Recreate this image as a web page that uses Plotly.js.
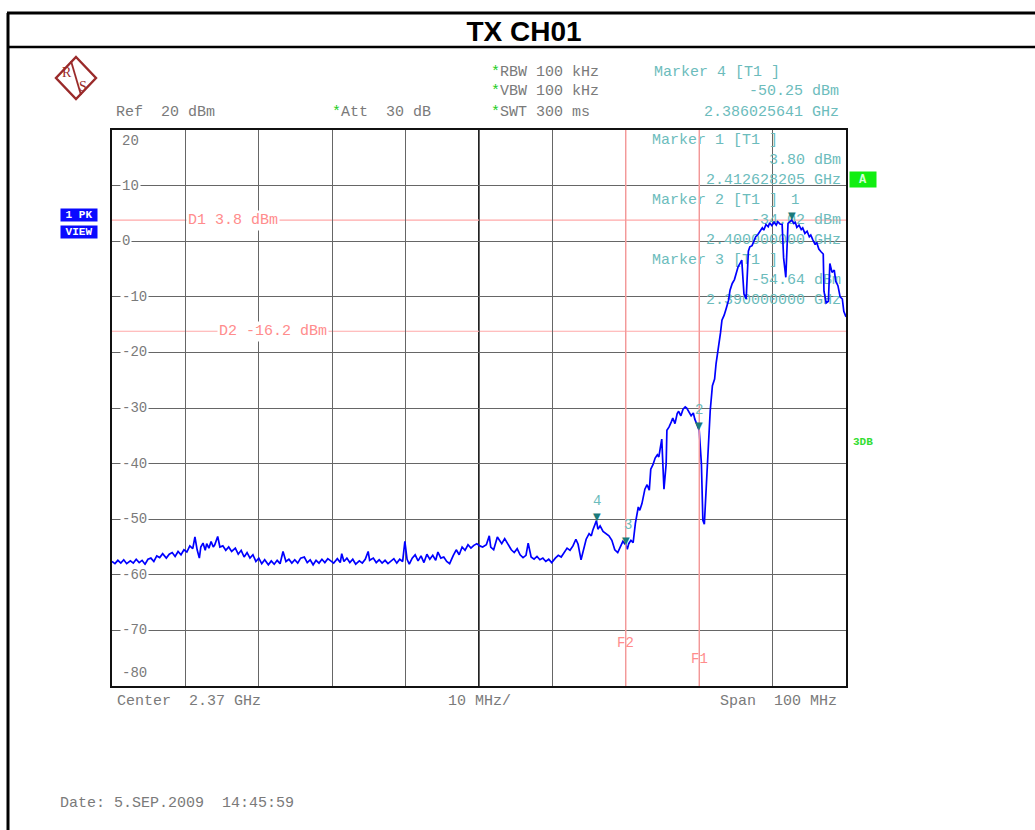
<!DOCTYPE html>
<html>
<head>
<meta charset="utf-8">
<script src="https://cdn.plot.ly/plotly-3.0.1.min.js"></script>
<style>html,body{margin:0;padding:0;background:#fff;}#chart{width:1035px;height:830px;}</style>
</head>
<body>
<div id="chart"></div>
<script>
// ---- Data ----
const freqMHz = [
2320.0,2320.4,2320.8,2321.2,2321.6,2322.0,2322.5,2322.9,2323.3,2323.7,2324.1,2324.5,2324.9,2325.3,2325.7,2326.1,2326.5,2326.9,2327.4,2327.8,
2328.2,2328.6,2329.0,2329.4,2329.8,2330.2,2330.6,2331.0,2331.3,2331.6,2331.9,2332.1,2332.4,2332.7,2332.9,2333.2,2333.5,2333.8,2334.0,2334.4,
2334.7,2335.1,2335.5,2335.9,2336.3,2336.8,2337.2,2337.6,2338.0,2338.4,2338.8,2339.2,2339.6,2340.0,2340.4,2340.8,2341.3,2341.7,2342.1,2342.5,
2342.9,2343.3,2343.7,2344.1,2344.5,2344.9,2345.3,2345.7,2346.2,2346.6,2347.0,2347.4,2347.8,2348.2,2348.6,2349.0,2349.4,2349.8,2350.2,2350.7,
2351.1,2351.3,2351.6,2352.0,2352.4,2352.8,2353.2,2353.7,2354.1,2354.5,2354.9,2355.1,2355.6,2356.0,2356.4,2356.8,2357.2,2357.6,2358.0,2358.4,
2358.8,2359.2,2359.6,2359.9,2360.2,2360.5,2360.9,2361.3,2361.7,2362.1,2362.5,2362.9,2363.3,2363.7,2364.1,2364.4,2364.8,2365.2,2365.6,2366.0,
2366.5,2366.9,2367.3,2367.7,2368.1,2368.5,2368.9,2369.3,2369.7,2370.1,2370.5,2371.0,2371.4,2371.6,2372.0,2372.5,2372.7,2373.1,2373.5,2374.0,
2374.4,2374.8,2375.2,2375.6,2376.0,2376.4,2376.7,2377.1,2377.5,2377.9,2378.3,2378.7,2379.1,2379.5,2379.9,2380.4,2380.8,2381.2,2381.6,2382.0,
2382.4,2382.8,2383.2,2383.5,2383.9,2384.2,2384.6,2385.0,2385.3,2385.5,2386.0,2386.2,2386.5,2386.9,2387.3,2387.7,2388.1,2388.5,2388.9,2389.3,
2389.6,2390.0,2390.2,2390.4,2390.7,2391.0,2391.3,2391.7,2391.9,2392.2,2392.6,2392.9,2393.2,2393.4,2393.7,2394.0,2394.3,2394.5,2394.8,2394.9,
2395.2,2395.5,2395.6,2395.9,2396.2,2396.4,2396.7,2397.0,2397.2,2397.5,2397.8,2398.1,2398.3,2398.6,2398.9,2399.2,2399.4,2399.7,2400.0,2400.3,
2400.5,2400.7,2400.8,2401.1,2401.4,2401.5,2401.8,2402.1,2402.3,2402.6,2402.9,2403.1,2403.4,2403.7,2404.0,2404.2,2404.5,2404.8,2405.0,2405.3,
2405.6,2405.8,2406.1,2406.4,2406.7,2406.9,2407.2,2407.5,2407.7,2408.0,2408.3,2408.6,2408.8,2409.1,2409.4,2409.6,2409.9,2410.2,2410.5,2410.7,
2411.0,2411.3,2411.5,2411.8,2412.1,2412.6,2412.9,2413.1,2413.3,2413.6,2413.9,2414.1,2414.4,2414.7,2415.0,2415.2,2415.5,2415.8,2416.0,2416.3,
2416.6,2416.9,2417.0,2417.3,2417.6,2417.7,2417.8,2418.1,2418.4,2418.6,2418.9,2419.2,2419.5,2419.7,2420.0
];
const levelDbm = [
-57.6,-58.0,-57.4,-57.9,-57.3,-58.0,-57.5,-57.9,-57.2,-57.8,-57.4,-58.1,-57.2,-57.0,-57.6,-56.6,-56.9,-56.2,-57.0,-56.3,
-56.0,-56.7,-55.8,-56.4,-55.5,-55.9,-54.8,-55.3,-53.2,-55.5,-57.0,-55.0,-54.3,-55.6,-54.4,-55.2,-54.0,-55.0,-54.6,-53.1,
-55.0,-54.8,-55.6,-55.0,-55.8,-55.2,-56.3,-55.6,-56.8,-56.0,-57.0,-56.4,-57.6,-57.0,-58.0,-57.3,-58.2,-57.5,-58.1,-57.4,
-58.0,-55.8,-57.6,-57.2,-57.9,-57.3,-57.9,-57.0,-56.8,-57.8,-57.3,-58.2,-57.4,-57.9,-57.2,-57.8,-57.1,-57.5,-57.9,-57.1,
-57.8,-56.2,-57.6,-57.0,-57.8,-57.2,-58.1,-57.5,-57.9,-57.2,-55.8,-57.4,-57.0,-57.8,-57.3,-57.9,-57.4,-58.0,-57.5,-57.1,
-57.9,-57.2,-57.6,-54.0,-57.2,-58.1,-57.0,-56.4,-57.5,-56.6,-57.8,-56.3,-57.2,-56.5,-57.4,-55.9,-57.0,-56.8,-57.6,-58.0,
-56.5,-55.5,-56.4,-55.0,-55.6,-54.6,-55.2,-54.7,-54.4,-54.8,-55.0,-54.6,-53.0,-55.0,-55.5,-53.2,-53.6,-54.4,-53.5,-54.6,
-55.5,-56.0,-55.3,-56.4,-56.9,-56.5,-54.3,-56.8,-57.2,-56.7,-57.3,-57.0,-57.6,-57.2,-57.8,-57.0,-56.5,-56.8,-56.0,-55.2,
-55.6,-54.8,-53.6,-54.5,-57.3,-55.5,-53.6,-52.6,-53.0,-52.0,-50.25,-51.8,-51.2,-52.2,-52.6,-53.0,-53.8,-55.5,-56.0,-55.0,
-54.0,-54.64,-55.4,-54.4,-53.8,-54.2,-50.8,-47.8,-48.4,-47.2,-44.6,-43.8,-44.8,-41.0,-40.2,-39.0,-38.4,-38.8,-36.2,-35.6,
-44.6,-40.0,-34.0,-33.4,-32.5,-31.8,-32.8,-31.0,-30.6,-31.4,-30.2,-29.8,-30.0,-30.8,-31.4,-30.9,-32.0,-33.0,-34.02,-40.0,
-50.2,-50.9,-48.0,-39.4,-33.0,-30.5,-26.0,-24.8,-22.0,-19.5,-16.5,-14.2,-13.3,-12.0,-10.6,-8.8,-7.6,-6.9,-5.8,-4.6,
-3.9,-3.4,-9.5,-10.4,-1.8,-1.0,-0.8,0.2,0.8,1.2,1.8,2.4,2.0,3.0,2.6,3.3,2.8,3.4,2.9,3.5,
3.1,3.0,-3.0,-6.5,3.2,3.8,3.2,3.4,2.5,2.9,2.1,2.4,1.4,1.8,0.8,1.1,0.2,-0.6,-0.2,-1.4,
-1.9,-2.3,-9.0,-11.1,-10.8,-4.5,-4.0,-5.6,-5.2,-7.2,-8.0,-10.0,-10.4,-12.6,-13.6
];
const markerNames = ['1', '2', '3', '4'];
const markerFreqMHz = [2412.628205, 2400.0, 2390.0, 2386.025641];
const markerLevel = [3.80, -34.02, -54.64, -50.25];
const markerFreqText = ['2.412628205 GHz', '2.400000000 GHz', '2.390000000 GHz', '2.386025641 GHz'];
const markerLevelText = ['3.80 dBm', '-34.02 dBm', '-54.64 dBm', '-50.25 dBm'];
const displayLineNames = ['D1', 'D2'];
const displayLineLevels = [3.8, -16.2];
const freqLineNames = ['F1', 'F2'];
const freqLineMHz = [2400, 2390];
const yTickValues = [20, 10, 0, -10, -20, -30, -40, -50, -60, -70, -80];
const centerMHz = 2370, spanMHz = 100;

// ---- layout helpers (pixel -> paper) ----
const L = 112, R = 846, T = 130, B = 686;
const W = 1035, H = 830;
const px = x => (x - L) / (R - L);
const py = y => (B - y) / (B - T);
const MONO = 'Courier New, Liberation Mono, monospace';
const GRAY = '#7a7a7a', TEAL = '#6cbcbc', DTEAL = '#1b7a7a', LRED = '#ff8c8c';
const nb = s => s.replace(/ /g, '\u00a0');

function ann(x, y, text, o) {
  o = o || {};
  return Object.assign({
    xref: 'paper', yref: 'paper', x: px(x), y: py(y), text: nb(text),
    showarrow: false, xanchor: 'left', yanchor: 'middle',
    font: {family: MONO, size: 15, color: GRAY}
  }, o);
}
const star = '<span style="color:#22cc22">*</span>';

const annotations = [];
// header
annotations.push(ann(114, 113, 'Ref  20 dBm'));
annotations.push(Object.assign(ann(330, 113, ''), {text: star + nb('Att  30 dB')}));
annotations.push(Object.assign(ann(489, 72, ''), {text: star + nb('RBW 100 kHz')}));
annotations.push(Object.assign(ann(489, 92, ''), {text: star + nb('VBW 100 kHz')}));
annotations.push(Object.assign(ann(489, 113, ''), {text: star + nb('SWT 300 ms')}));
annotations.push(ann(652, 72, 'Marker ' + markerNames[3] + ' [T1 ]', {font: {family: MONO, size: 15, color: TEAL}}));
annotations.push(ann(841, 92, markerLevelText[3], {xanchor: 'right', font: {family: MONO, size: 15, color: TEAL}}));
annotations.push(ann(841, 113, markerFreqText[3], {xanchor: 'right', font: {family: MONO, size: 15, color: TEAL}}));
// bottom
annotations.push(ann(115, 701, 'Center  ' + (centerMHz / 1000) + ' GHz'));
annotations.push(ann(446, 701, (spanMHz / 10) + ' MHz/'));
annotations.push(ann(839, 701, 'Span  ' + spanMHz + ' MHz', {xanchor: 'right'}));
annotations.push(ann(58, 803, 'Date: 5.SEP.2009  14:45:59'));
// y tick labels (inside plot)
yTickValues.forEach(v => {
  let yy = T + (20 - v) * (B - T) / 100;
  if (v === 20) yy = 141;
  if (v === -80) yy = 673;
  annotations.push(ann(120, yy, String(v), {bgcolor: '#ffffff', borderpad: 1, font: {family: MONO, size: 14, color: GRAY}}));
});
// display line labels
annotations.push(ann(186, 0, displayLineNames[0] + ' ' + displayLineLevels[0] + ' dBm', {
  yref: 'y', y: displayLineLevels[0], bgcolor: '#ffffff', borderpad: 1, font: {family: MONO, size: 15, color: LRED}}));
annotations.push(ann(217, 0, displayLineNames[1] + ' ' + displayLineLevels[1] + ' dBm', {
  yref: 'y', y: displayLineLevels[1], bgcolor: '#ffffff', borderpad: 1, font: {family: MONO, size: 15, color: LRED}}));
// frequency line labels
annotations.push({xref: 'x', yref: 'paper', x: freqLineMHz[1], y: py(643), text: freqLineNames[1], showarrow: false,
  xanchor: 'center', yanchor: 'middle', font: {family: MONO, size: 14, color: LRED}});
annotations.push({xref: 'x', yref: 'paper', x: freqLineMHz[0], y: py(659), text: freqLineNames[0], showarrow: false,
  xanchor: 'center', yanchor: 'middle', font: {family: MONO, size: 14, color: LRED}});
// marker symbols
markerNames.forEach((n, i) => {
  annotations.push({xref: 'x', yref: 'y', x: markerFreqMHz[i], y: markerLevel[i], text: '▼', showarrow: false,
    xanchor: 'center', yanchor: 'bottom', yshift: -3, font: {family: 'DejaVu Sans', size: 10, color: DTEAL}});
  annotations.push({xref: 'x', yref: 'y', x: markerFreqMHz[i], y: markerLevel[i], text: n, showarrow: false,
    xanchor: 'center', yanchor: 'bottom', yshift: 10, xshift: (n === '3' ? 2 : (n === '1' ? 3 : 0)),
    font: {family: MONO, size: 14, color: TEAL}});
});
// side boxes
annotations.push(ann(60, 215, '1 PK', {width: 36, height: 12, bgcolor: '#0a0aff', borderpad: 0, xanchor: 'left',
  font: {family: MONO, size: 11, color: '#ffffff', weight: 'bold'}}));
annotations.push(ann(60, 232, 'VIEW', {width: 36, height: 12, bgcolor: '#0a0aff', borderpad: 0, xanchor: 'left',
  font: {family: MONO, size: 11, color: '#ffffff', weight: 'bold'}}));
annotations.push(ann(849, 179, 'A', {width: 26, height: 15, bgcolor: '#11ee11', borderpad: 0, xanchor: 'left',
  font: {family: MONO, size: 12, color: '#d8ffd8', weight: 'bold'}}));
annotations.push(ann(851, 442, '3DB', {font: {family: MONO, size: 11, color: '#33dd33', weight: 'bold'}}));
// logo letters
annotations.push(ann(67, 72, 'R', {xanchor: 'center', font: {family: 'Liberation Serif', size: 14, color: '#9a2a2a'}}));
annotations.push(ann(83, 86, 'S', {xanchor: 'center', font: {family: 'Liberation Serif', size: 14, color: '#9a2a2a'}}));

// in-plot marker info text (drawn behind the trace as a text trace)
const xAt = x => centerMHz - spanMHz / 2 + (x - L) / (R - L) * spanMHz;
const yAt = y => 20 - (y - T) / (B - T) * 100;
const infoLeft = {x: [], y: [], text: []}, infoRight = {x: [], y: [], text: []};
[0, 1, 2].forEach((i, k) => {
  const y0 = 140 + k * 60;
  infoLeft.x.push(xAt(652)); infoLeft.y.push(yAt(y0)); infoLeft.text.push(nb('Marker ' + markerNames[i] + ' [T1 ]'));
  infoRight.x.push(xAt(841)); infoRight.y.push(yAt(y0 + 20)); infoRight.text.push(nb(markerLevelText[i]));
  infoRight.x.push(xAt(841)); infoRight.y.push(yAt(y0 + 40)); infoRight.text.push(nb(markerFreqText[i]));
});

const traces = [
  {x: infoLeft.x, y: infoLeft.y, text: infoLeft.text, mode: 'text', type: 'scatter', textposition: 'middle right',
   textfont: {family: MONO, size: 15, color: TEAL}, hoverinfo: 'skip', showlegend: false, cliponaxis: false},
  {x: infoRight.x, y: infoRight.y, text: infoRight.text, mode: 'text', type: 'scatter', textposition: 'middle left',
   textfont: {family: MONO, size: 15, color: TEAL}, hoverinfo: 'skip', showlegend: false, cliponaxis: false},
  {x: freqMHz, y: levelDbm, mode: 'lines', type: 'scatter', line: {color: '#0000ff', width: 1.7}, showlegend: false}
];

const shapes = [];
// centre line
shapes.push({type: 'line', xref: 'x', yref: 'paper', x0: centerMHz, x1: centerMHz, y0: 0, y1: 1, line: {color: '#222', width: 2}, layer: 'between'});
// display lines
displayLineLevels.forEach(v => shapes.push({type: 'line', xref: 'paper', yref: 'y', x0: 0, x1: 1, y0: v, y1: v,
  line: {color: '#ffa8a8', width: 1.2}, layer: 'between'}));
freqLineMHz.forEach(v => shapes.push({type: 'line', xref: 'x', yref: 'paper', x0: v, x1: v, y0: 0, y1: 1,
  line: {color: '#ffa0a0', width: 1.4}, layer: 'above'}));
// page frame
shapes.push({type: 'line', xref: 'paper', yref: 'paper', x0: px(8), x1: px(8), y0: py(13), y1: py(835), line: {color: '#000', width: 3}});
shapes.push({type: 'line', xref: 'paper', yref: 'paper', x0: px(7), x1: px(1040), y0: py(13), y1: py(13), line: {color: '#000', width: 3}});
shapes.push({type: 'line', xref: 'paper', yref: 'paper', x0: px(7), x1: px(1040), y0: py(47), y1: py(47), line: {color: '#000', width: 2.5}});
// R&S logo
const dia = [[76, 57], [96, 78], [76, 99], [56, 78]];
shapes.push({type: 'path', xref: 'paper', yref: 'paper',
  path: 'M' + dia.map(p => px(p[0]) + ',' + py(p[1])).join(' L') + ' Z', line: {color: '#9a2a2a', width: 2.4}});
shapes.push({type: 'line', xref: 'paper', yref: 'paper', x0: px(71), y0: py(61), x1: px(81), y1: py(95), line: {color: '#9a2a2a', width: 1.8}});

const layout = {
  width: W, height: H,
  margin: {l: L, r: W - R, t: T, b: H - B, pad: 0},
  paper_bgcolor: '#ffffff', plot_bgcolor: '#ffffff',
  showlegend: false,
  title: {text: '<b>TX CH01</b>', font: {family: 'Liberation Sans, Arial, sans-serif', size: 28, color: '#000'},
    xref: 'container', yref: 'container', x: 524 / W, xanchor: 'center', y: 1 - 31 / H, yanchor: 'middle'},
  xaxis: {range: [centerMHz - spanMHz / 2, centerMHz + spanMHz / 2], dtick: 10, tick0: 2320, showticklabels: false,
    ticks: '', showgrid: true, gridcolor: '#666666', gridwidth: 1, zeroline: false,
    showline: true, mirror: true, linecolor: '#111', linewidth: 2, fixedrange: true},
  yaxis: {range: [-80, 20], dtick: 10, tick0: 0, showticklabels: false, ticks: '', showgrid: true,
    gridcolor: '#666666', gridwidth: 1, zeroline: false,
    showline: true, mirror: true, linecolor: '#111', linewidth: 2, fixedrange: true},
  annotations: annotations,
  shapes: shapes
};

Plotly.newPlot('chart', traces, layout, {displayModeBar: false, staticPlot: true});
</script>
</body>
</html>
